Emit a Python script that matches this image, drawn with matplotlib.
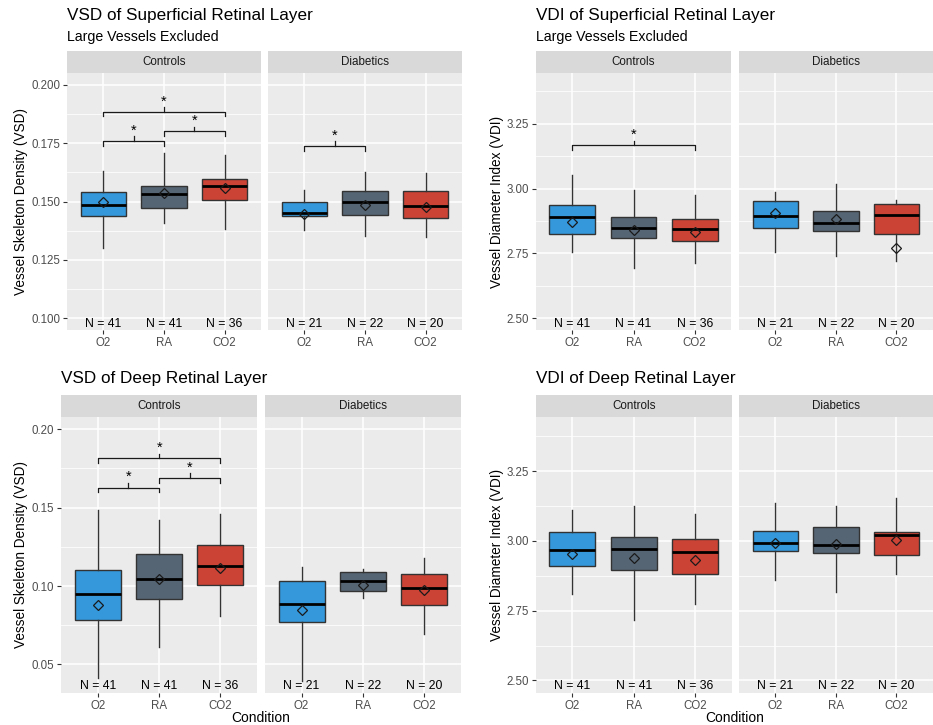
import numpy as np
import matplotlib.pyplot as plt

plt.rcParams['font.family'] = ['Liberation Sans', 'DejaVu Sans']

W, H = 933, 725

conds = ["O2", "RA", "CO2"]
groups = ["Controls", "Diabetics"]
n_ctrl = [41, 41, 36]
n_diab = [21, 22, 20]
colors = ["#3498DB", "#566573", "#CB4335"]

# box stats per condition: [whisker low, q1, median, q3, whisker high]
vsd_sup_ctrl = [[0.1300, 0.1437, 0.1484, 0.1542, 0.1630],
                [0.1407, 0.1471, 0.1534, 0.1568, 0.1709],
                [0.1381, 0.1506, 0.1565, 0.1596, 0.1699]]
vsd_sup_diab = [[0.1378, 0.1438, 0.1452, 0.1498, 0.1549],
                [0.1354, 0.1444, 0.1498, 0.1546, 0.1628],
                [0.1350, 0.1428, 0.1482, 0.1545, 0.1623]]
vsd_sup_ctrl_mean = [0.1498, 0.1538, 0.1559]
vsd_sup_diab_mean = [0.1448, 0.1485, 0.1475]

vdi_sup_ctrl = [[2.756, 2.825, 2.889, 2.937, 3.053],
                [2.692, 2.809, 2.848, 2.892, 2.996],
                [2.714, 2.798, 2.844, 2.883, 2.976]]
vdi_sup_diab = [[2.756, 2.849, 2.894, 2.952, 2.986],
                [2.740, 2.838, 2.867, 2.914, 3.019],
                [2.720, 2.826, 2.898, 2.939, 2.956]]
vdi_sup_ctrl_mean = [2.872, 2.841, 2.831]
vdi_sup_diab_mean = [2.905, 2.881, 2.772]

vsd_deep_ctrl = [[0.0414, 0.0781, 0.0947, 0.1102, 0.1487],
                 [0.0611, 0.0915, 0.1042, 0.1206, 0.1423],
                 [0.0811, 0.1008, 0.1125, 0.1261, 0.1461]]
vsd_deep_diab = [[0.0392, 0.0768, 0.0883, 0.1034, 0.1119],
                 [0.0921, 0.0966, 0.1032, 0.1087, 0.1108],
                 [0.0696, 0.0881, 0.0985, 0.1074, 0.1176]]
vsd_deep_ctrl_mean = [0.0879, 0.1047, 0.1113]
vsd_deep_diab_mean = [0.0849, 0.1004, 0.0977]

vdi_deep_ctrl = [[2.809, 2.910, 2.969, 3.033, 3.111],
                 [2.718, 2.895, 2.971, 3.014, 3.126],
                 [2.774, 2.883, 2.962, 3.007, 3.098]]
vdi_deep_diab = [[2.859, 2.964, 2.993, 3.037, 3.134],
                 [2.818, 2.956, 2.986, 3.050, 3.126],
                 [2.883, 2.951, 3.022, 3.032, 3.152]]
vdi_deep_ctrl_mean = [2.953, 2.938, 2.932]
vdi_deep_diab_mean = [2.993, 2.990, 3.004]

# significance brackets: (facet, from, to, y)
vsd_sup_sig = [(0, 0, 1, 0.1759), (0, 1, 2, 0.1800), (0, 0, 2, 0.1884), (1, 0, 1, 0.1737)]
vdi_sup_sig = [(0, 0, 2, 3.166)]
vsd_deep_sig = [(0, 0, 1, 0.1627), (0, 1, 2, 0.1688), (0, 0, 2, 0.1814)]
vdi_deep_sig = []


def px_rect(x0, y0, x1, y1):
    return [x0 / W, 1 - y1 / H, (x1 - x0) / W, (y1 - y0) / H]


def make_stats(box, means):
    out = []
    for b, m in zip(box, means):
        out.append(dict(whislo=b[0], q1=b[1], med=b[2], q3=b[3], whishi=b[4],
                        mean=m, fliers=[]))
    return out


def draw_panel(fig, data_sets, facets, strip_y, panel_y, lim, ticks, minor, fmt,
               ylabel, title, subtitle, title_x, ylabel_x, sig, xlabel=None):
    y_top, y_bot = panel_y
    lo = lim[0] - 0.05 * (lim[1] - lim[0])
    hi = lim[1] + 0.05 * (lim[1] - lim[0])
    per_px = (hi - lo) / (y_bot - y_top)
    for k, (x0, x1) in enumerate(facets):
        box, means, ns = data_sets[k]
        ax = fig.add_axes(px_rect(x0, y_top, x1, y_bot))
        ax.set_facecolor("#EBEBEB")
        bp = ax.bxp(make_stats(box, means), positions=[1, 2, 3], widths=0.75,
                    patch_artist=True, showmeans=True, showcaps=False,
                    showfliers=False,
                    boxprops=dict(edgecolor="#333333", linewidth=1.0),
                    whiskerprops=dict(color="#333333", linewidth=1.0),
                    medianprops=dict(color="black", linewidth=2.0),
                    meanprops=dict(marker="D", markerfacecolor="none",
                                   markeredgecolor="#1A1A1A", markersize=5,
                                   markeredgewidth=0.9))
        for patch, c in zip(bp["boxes"], colors):
            patch.set_facecolor(c)
        ax.set_xlim(0.4, 3.6)
        ax.set_ylim(lo, hi)
        ax.set_xticks([1, 2, 3])
        ax.set_xticklabels(conds)
        ax.set_yticks(ticks)
        ax.set_yticks(minor, minor=True)
        ax.grid(True, which="major", color="white", linewidth=1.1)
        ax.grid(True, which="minor", axis="y", color="white", linewidth=0.55)
        ax.set_axisbelow(True)
        ax.tick_params(axis="both", which="major", colors="#333333", length=3,
                       width=0.8, labelsize=8.3, labelcolor="#4D4D4D", pad=2)
        ax.tick_params(which="minor", length=0)
        if k == 0:
            ax.set_yticklabels([fmt.format(t) for t in ticks])
        else:
            ax.set_yticklabels([])
            ax.tick_params(axis="y", length=0)
        for s in ax.spines.values():
            s.set_visible(False)
        for i, n in enumerate(ns):
            ax.annotate("N = %d" % n, (i + 1, lim[0]), xytext=(0, -6),
                        textcoords="offset pixels", ha="center", va="center",
                        fontsize=8.8, color="black")
        for (f, a, b, y) in sig:
            if f != k:
                continue
            xa, xb = a + 1, b + 1
            xm = (xa + xb) / 2
            leg = 4.7 * per_px
            ax.plot([xa, xa, xb, xb], [y - leg, y, y, y - leg],
                    color="#1A1A1A", linewidth=0.9, solid_joinstyle="round")
            ax.plot([xm, xm], [y, y + 4.7 * per_px], color="#1A1A1A", linewidth=0.9)
            ax.text(xm, y + 10.5 * per_px, "*", ha="center", va="center",
                    fontsize=10.5, color="black")
        # strip
        sax = fig.add_axes(px_rect(x0, strip_y, x1, y_top))
        sax.set_facecolor("#D9D9D9")
        sax.set_xticks([])
        sax.set_yticks([])
        for s in sax.spines.values():
            s.set_visible(False)
        sax.text(0.5, 0.5, groups[k], ha="center", va="center",
                 fontsize=8.4, color="#1A1A1A", transform=sax.transAxes)
    # labels and titles
    fig.text(ylabel_x / W, 1 - (y_top + y_bot) / 2 / H, ylabel, rotation=90,
             ha="center", va="center", fontsize=9.8, color="black")
    fig.text(title_x / W, 1 - title[1] / H, title[0], ha="left", va="center",
             fontsize=12.3, color="black")
    if subtitle:
        fig.text(title_x / W, 1 - subtitle[1] / H, subtitle[0], ha="left",
                 va="center", fontsize=10.2, color="black")
    if xlabel:
        xc = (facets[0][0] + facets[1][1]) / 2
        fig.text(xc / W, 1 - xlabel[1] / H, xlabel[0], ha="center", va="center",
                 fontsize=10, color="black")


fig = plt.figure(figsize=(W / 100, H / 100), dpi=100)
fig.patch.set_facecolor("white")

vsd_sup_ticks = [0.100, 0.125, 0.150, 0.175, 0.200]
vsd_sup_minor = [0.1125, 0.1375, 0.1625, 0.1875]
vdi_ticks = [2.50, 2.75, 3.00, 3.25]
vdi_minor = [2.625, 2.875, 3.125, 3.375]
vsd_deep_ticks = [0.05, 0.10, 0.15, 0.20]
vsd_deep_minor = [0.075, 0.125, 0.175]

draw_panel(fig, [(vsd_sup_ctrl, vsd_sup_ctrl_mean, n_ctrl), (vsd_sup_diab, vsd_sup_diab_mean, n_diab)],
           [(67, 261), (268, 462)], 51, (73, 330), (0.100, 0.200),
           vsd_sup_ticks, vsd_sup_minor, "{:.3f}", "Vessel Skeleton Density (VSD)",
           ("VSD of Superficial Retinal Layer", 15.5), ("Large Vessels Excluded", 37),
           67, 21.5, vsd_sup_sig)

draw_panel(fig, [(vdi_sup_ctrl, vdi_sup_ctrl_mean, n_ctrl), (vdi_sup_diab, vdi_sup_diab_mean, n_diab)],
           [(535.7, 731.3), (739, 932.7)], 51, (73, 330), (2.5, 3.4),
           vdi_ticks, vdi_minor, "{:.2f}", "Vessel Diameter Index (VDI)",
           ("VDI of Superficial Retinal Layer", 15.5), ("Large Vessels Excluded", 37),
           535.7, 496.5, vdi_sup_sig)

draw_panel(fig, [(vsd_deep_ctrl, vsd_deep_ctrl_mean, n_ctrl), (vsd_deep_diab, vsd_deep_diab_mean, n_diab)],
           [(61, 257.3), (264.7, 461)], 395, (416.7, 692.7), (0.04, 0.20),
           vsd_deep_ticks, vsd_deep_minor, "{:.2f}", "Vessel Skeleton Density (VSD)",
           ("VSD of Deep Retinal Layer", 379), None,
           61, 21.5, vsd_deep_sig, xlabel=("Condition", 718))

draw_panel(fig, [(vdi_deep_ctrl, vdi_deep_ctrl_mean, n_ctrl), (vdi_deep_diab, vdi_deep_diab_mean, n_diab)],
           [(535.7, 731.7), (739, 932.7)], 395, (416.7, 693), (2.5, 3.4),
           vdi_ticks, vdi_minor, "{:.2f}", "Vessel Diameter Index (VDI)",
           ("VDI of Deep Retinal Layer", 379), None,
           535.7, 496.5, vdi_deep_sig, xlabel=("Condition", 718))

fig.savefig("out.png", dpi=100)
